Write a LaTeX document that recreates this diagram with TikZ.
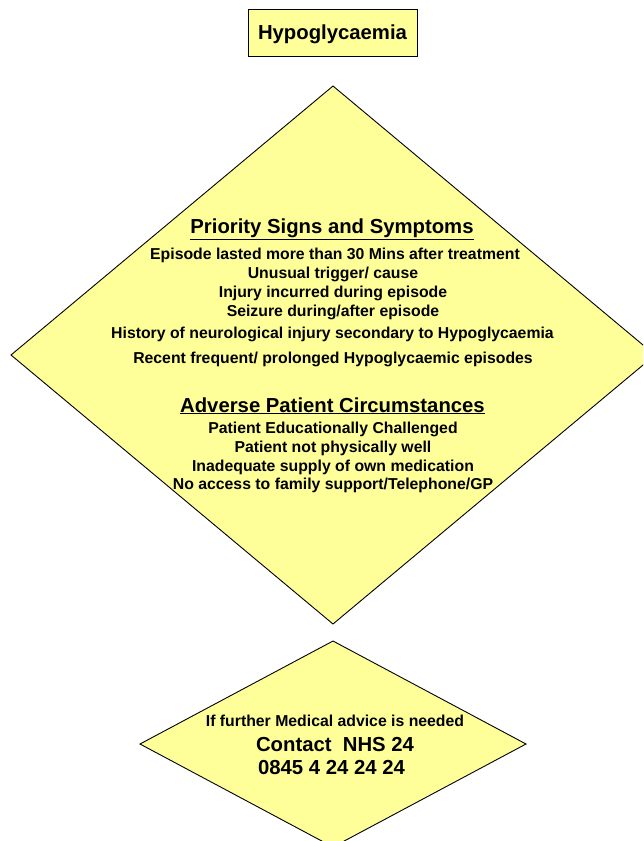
\documentclass[tikz,border=0pt]{standalone}
\usepackage{fontspec}
\setmainfont{Liberation Sans}
\definecolor{paleyellow}{HTML}{FFFF99}
\tikzset{
  shapebox/.style={draw=black, line width=0.9pt, fill=paleyellow},
  headtxt/.style={anchor=base, inner sep=0pt, font=\fontsize{20.3}{24}\selectfont\bfseries},
  bodytxt/.style={anchor=base, inner sep=0pt, font=\fontsize{15.8}{19}\selectfont\bfseries},
}
\begin{document}
\begin{tikzpicture}[x=1pt,y=-1pt]
\useasboundingbox (0,0) rectangle (643,841);
\clip (0,0) rectangle (643,841);
% title box
\draw[shapebox] (248,9) rectangle (417,56);
\node[headtxt] (title) at (332.5,39) {Hypoglycaemia};
% big diamond
\draw[shapebox] (333,86) -- (655,355) -- (333,624) -- (11,355) -- cycle;
\node[headtxt] (prio) at (332,233) {\underline{Priority Signs and Symptoms}};
\node[bodytxt] (p1) at (335,259) {Episode lasted more than 30 Mins after treatment};
\node[bodytxt] (p2) at (333,278) {Unusual trigger/ cause};
\node[bodytxt] (p3) at (333,297) {Injury incurred during episode};
\node[bodytxt] (p4) at (333,316) {Seizure during/after episode};
\node[bodytxt] (p5) at (332.5,338) {History of neurological injury secondary to Hypoglycaemia};
\node[bodytxt] (p6) at (333,363) {Recent frequent/ prolonged Hypoglycaemic episodes};
\node[headtxt] (adv) at (332.5,412) {\underline{Adverse Patient Circumstances}};
\node[bodytxt] (a1) at (333,433) {Patient Educationally Challenged};
\node[bodytxt] (a2) at (333,452) {Patient not physically well};
\node[bodytxt] (a3) at (333,471) {Inadequate supply of own medication};
\node[bodytxt] (a4) at (333,489) {No access to family support/Telephone/GP};
% small diamond
\draw[shapebox] (333,641) -- (526,744) -- (333,847) -- (140,744) -- cycle;
\node[bodytxt] (c1) at (335,726) {If further Medical advice is needed};
\node[headtxt] (c2) at (335,751) {Contact\ \ NHS 24};
\node[headtxt] (c3) at (331.5,774) {0845 4 24 24 24};
\end{tikzpicture}
\end{document}
